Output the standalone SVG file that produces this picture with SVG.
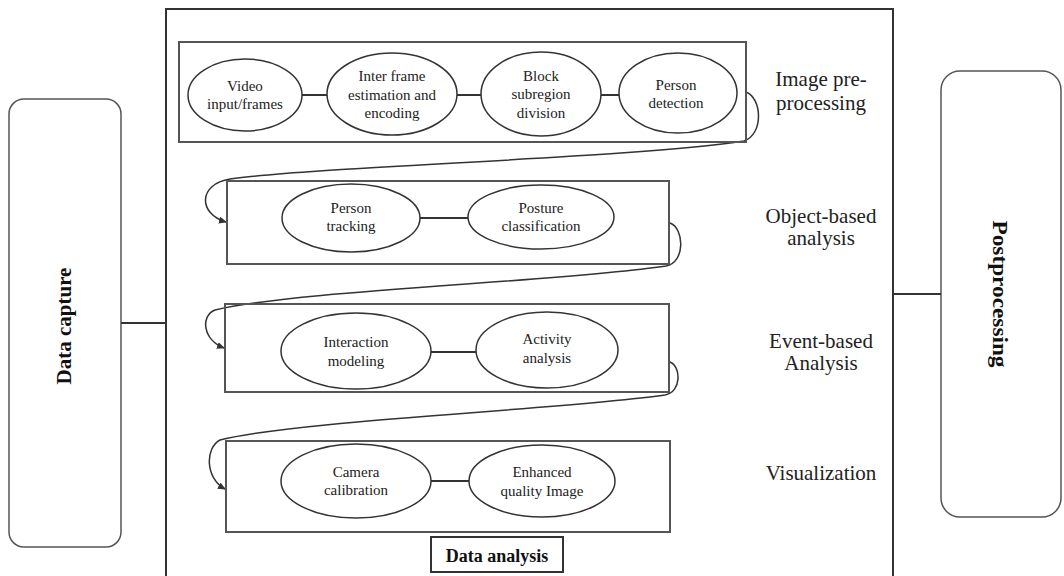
<svg xmlns="http://www.w3.org/2000/svg" width="1064" height="576" viewBox="0 0 1064 576" font-family="'Liberation Serif', 'Times New Roman', serif">
  <style>
    .frame { fill: none; stroke: #333; stroke-width: 2; }
    .stage { fill: none; stroke: #555; stroke-width: 2; }
    .side { fill: #fff; stroke: #555; stroke-width: 1.5; }
    .oval { fill: #fff; stroke: #333; stroke-width: 1.5; }
    .link { fill: none; stroke: #333; stroke-width: 2; }
    .flow { fill: none; stroke: #333; stroke-width: 1.5; }
    .otext { font-family: 'Liberation Serif', 'Times New Roman', serif; font-size: 15px; fill: #222; text-anchor: middle; }
    .lbl { font-family: 'Liberation Serif', 'Times New Roman', serif; font-size: 21px; fill: #222; text-anchor: middle; }
    .bold { font-family: 'Liberation Serif', 'Times New Roman', serif; font-weight: bold; fill: #111; text-anchor: middle; }
  </style>
  <defs>
    <marker id="arrow" markerWidth="8" markerHeight="8" refX="7" refY="4" orient="auto" markerUnits="userSpaceOnUse">
      <path d="M0,0.5 L8,4 L0,7.5 Z" fill="#333"/>
    </marker>
  </defs>

  <rect width="1064" height="576" fill="#fff"/>

  <!-- outer data analysis frame -->
  <g id="data-analysis">
    <rect class="frame" x="166" y="9" width="727" height="590"/>
    <rect x="431" y="537" width="132" height="35" fill="#fff" stroke="#333" stroke-width="2"/>
    <text class="bold" x="497" y="562" font-size="18">Data analysis</text>
  </g>

  <!-- side blocks -->
  <g id="data-capture">
    <rect class="side" x="9" y="99" width="112" height="448" rx="15"/>
    <text class="bold" font-size="21" transform="translate(71,326) rotate(-90)">Data capture</text>
  </g>
  <g id="postprocessing">
    <rect class="side" x="941" y="71" width="120" height="446" rx="19"/>
    <text class="bold" font-size="20" textLength="147" lengthAdjust="spacingAndGlyphs" transform="translate(993,294) rotate(90)">Postprocessing</text>
  </g>

  <!-- connectors -->
  <g id="connectors">
    <line class="link" x1="121" y1="323" x2="166" y2="323"/>
    <line class="link" x1="893" y1="294" x2="941" y2="294"/>
    <line class="link" x1="302" y1="95" x2="327" y2="95"/>
    <line class="link" x1="457" y1="95" x2="481" y2="95"/>
    <line class="link" x1="601" y1="95" x2="619" y2="95"/>
    <line class="link" x1="420" y1="218" x2="468" y2="218"/>
    <line class="link" x1="431" y1="352" x2="476" y2="352"/>
    <line class="link" x1="431" y1="481" x2="470" y2="481"/>
    <path class="flow" d="M746,92 C762,98 764,134 744,141 C640,158 320,166 230,179 C198,184 198,214 226,222" marker-end="url(#arrow)"/>
    <path class="flow" d="M670,223 C684,228 686,262 666,266 C560,282 300,290 215,310 C200,316 203,340 224,348" marker-end="url(#arrow)"/>
    <path class="flow" d="M670,362 C681,366 682,392 665,395 C560,410 300,420 220,440 C205,448 205,478 225,489" marker-end="url(#arrow)"/>
  </g>

  <!-- stage 1 -->
  <g id="image-preprocessing">
    <rect class="stage" x="179" y="42" width="567" height="100"/>
    <text class="lbl" x="821" y="86">Image pre-</text>
    <text class="lbl" x="821" y="110">processing</text>
  </g>
  <g id="video-input">
    <ellipse class="oval" cx="245" cy="95" rx="57" ry="36"/>
    <text class="otext" x="245" y="91">Video</text>
    <text class="otext" x="245" y="109">input/frames</text>
  </g>
  <g id="inter-frame">
    <ellipse class="oval" cx="392" cy="94" rx="65" ry="41"/>
    <text class="otext" x="392" y="81">Inter frame</text>
    <text class="otext" x="392" y="100">estimation and</text>
    <text class="otext" x="392" y="118">encoding</text>
  </g>
  <g id="block-subregion">
    <ellipse class="oval" cx="541" cy="94" rx="60" ry="42"/>
    <text class="otext" x="541" y="81">Block</text>
    <text class="otext" x="541" y="99">subregion</text>
    <text class="otext" x="541" y="118">division</text>
  </g>
  <g id="person-detection">
    <ellipse class="oval" cx="678" cy="93" rx="59" ry="40"/>
    <text class="otext" x="676" y="90">Person</text>
    <text class="otext" x="676" y="108">detection</text>
  </g>

  <!-- stage 2 -->
  <g id="object-based">
    <rect class="stage" x="227" y="181" width="442" height="83"/>
    <text class="lbl" x="821" y="223">Object-based</text>
    <text class="lbl" x="821" y="245">analysis</text>
  </g>
  <g id="person-tracking">
    <ellipse class="oval" cx="351" cy="218" rx="69" ry="34"/>
    <text class="otext" x="351" y="213">Person</text>
    <text class="otext" x="351" y="231">tracking</text>
  </g>
  <g id="posture">
    <ellipse class="oval" cx="541" cy="217" rx="73" ry="32"/>
    <text class="otext" x="541" y="213">Posture</text>
    <text class="otext" x="541" y="231">classification</text>
  </g>

  <!-- stage 3 -->
  <g id="event-based">
    <rect class="stage" x="225" y="304" width="444" height="88"/>
    <text class="lbl" x="821" y="348">Event-based</text>
    <text class="lbl" x="821" y="370">Analysis</text>
  </g>
  <g id="interaction">
    <ellipse class="oval" cx="356" cy="351" rx="75" ry="38"/>
    <text class="otext" x="356" y="347">Interaction</text>
    <text class="otext" x="356" y="366">modeling</text>
  </g>
  <g id="activity">
    <ellipse class="oval" cx="547" cy="350" rx="71" ry="38"/>
    <text class="otext" x="547" y="344">Activity</text>
    <text class="otext" x="547" y="363">analysis</text>
  </g>

  <!-- stage 4 -->
  <g id="visualization">
    <rect class="stage" x="226" y="441" width="444" height="91"/>
    <text class="lbl" x="821" y="480">Visualization</text>
  </g>
  <g id="camera">
    <ellipse class="oval" cx="356" cy="481" rx="75" ry="37"/>
    <text class="otext" x="356" y="477">Camera</text>
    <text class="otext" x="356" y="495">calibration</text>
  </g>
  <g id="enhanced">
    <ellipse class="oval" cx="542" cy="481" rx="73" ry="36"/>
    <text class="otext" x="542" y="477">Enhanced</text>
    <text class="otext" x="542" y="496">quality Image</text>
  </g>
</svg>
